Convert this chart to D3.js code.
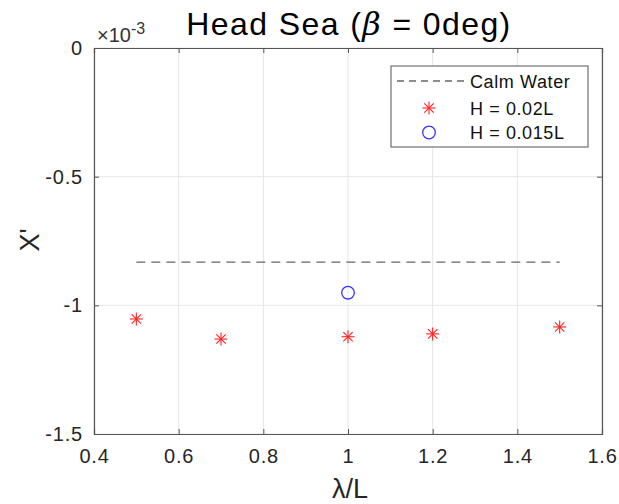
<!DOCTYPE html>
<html>
<head>
<meta charset="utf-8">
<script src="https://cdn.jsdelivr.net/npm/d3@7"></script>
<style>
  body { margin: 0; background: #fff; }
  text { font-family: "Liberation Sans", Arial, sans-serif; }
</style>
</head>
<body>
<div id="chart"></div>
<script>
var w = 619;
var h = 504;

// data (X' in units of 1e-3)
var waveLength = [0.5, 0.7, 1.0, 1.2, 1.5];
var h002 = [-1.053, -1.131, -1.122, -1.111, -1.084];
var h0015X = [1.0];
var h0015 = [-0.951];
var calmX = [0.5, 1.5];
var calmWater = -0.832;
var xTicks = [0.4, 0.6, 0.8, 1, 1.2, 1.4, 1.6];
var yTicks = [0, -0.5, -1, -1.5];
var legTexts = ["Calm Water", "H = 0.02L", "H = 0.015L"];

var pLeft = 94, pRight = 602, pTop = 48, pBottom = 434;

var xScale = d3.scaleLinear().domain([0.4, 1.6]).range([pLeft, pRight]);
var yScale = d3.scaleLinear().domain([-1.5, 0]).range([pBottom, pTop]);

var svg = d3.select("#chart").append("svg")
  .attr("width", w)
  .attr("height", h);

// grid
svg.selectAll(".gx").data(xTicks).enter().append("line")
  .attr("x1", d => xScale(d)).attr("x2", d => xScale(d))
  .attr("y1", pTop).attr("y2", pBottom)
  .attr("stroke", "#e6e6e6").attr("stroke-width", 1);
svg.selectAll(".gy").data(yTicks).enter().append("line")
  .attr("x1", pLeft).attr("x2", pRight)
  .attr("y1", d => yScale(d)).attr("y2", d => yScale(d))
  .attr("stroke", "#e6e6e6").attr("stroke-width", 1);

// axes (ticks inward)
var fmt = d => String(d).replace("\u2212", "-");
var xAxis = svg.append("g").attr("transform", "translate(0," + pBottom + ")")
  .call(d3.axisBottom(xScale).tickValues(xTicks).tickSize(-5).tickPadding(14).tickFormat(fmt));
var xAxisTop = svg.append("g").attr("transform", "translate(0," + pTop + ")")
  .call(d3.axisTop(xScale).tickValues(xTicks).tickSize(-5).tickFormat(""));
var yAxis = svg.append("g").attr("transform", "translate(" + pLeft + ",0)")
  .call(d3.axisLeft(yScale).tickValues(yTicks).tickSize(-5).tickPadding(11).tickFormat(fmt));
var yAxisR = svg.append("g").attr("transform", "translate(" + pRight + ",0)")
  .call(d3.axisRight(yScale).tickValues(yTicks).tickSize(-5).tickFormat(""));

[xAxis, xAxisTop, yAxis, yAxisR].forEach(function(g) {
  g.selectAll("path").attr("stroke", "#555").attr("stroke-width", 1.2);
  g.selectAll("line").attr("stroke", "#555");
  g.selectAll("text").attr("fill", "#262626").style("font-size", "20px")
    .style("letter-spacing", "0.8px")
    .style("font-family", "'Liberation Sans', Arial, sans-serif");
});
xAxis.selectAll(".tick text").attr("dy", "0.75em");

// calm water dashed line
svg.append("line")
  .attr("x1", xScale(calmX[0])).attr("x2", xScale(calmX[1]))
  .attr("y1", yScale(calmWater)).attr("y2", yScale(calmWater))
  .attr("stroke", "#666").attr("stroke-width", 1.4)
  .attr("stroke-dasharray", "9,6");

// star markers
function star(g, x, y, r) {
  var a = r * 0.72;
  var segs = [[-r, 0, r, 0], [0, -r, 0, r], [-a, -a, a, a], [-a, a, a, -a]];
  segs.forEach(function(s) {
    g.append("line")
      .attr("x1", x + s[0]).attr("y1", y + s[1])
      .attr("x2", x + s[2]).attr("y2", y + s[3])
      .attr("stroke", "#ff2020").attr("stroke-width", 1.1);
  });
}
var stars = svg.append("g");
waveLength.forEach(function(d, i) {
  star(stars, xScale(d), yScale(h002[i]), 6.5);
});

// circles
svg.selectAll(".circ").data(h0015X).enter().append("circle")
  .attr("cx", d => xScale(d))
  .attr("cy", (d, i) => yScale(h0015[i]))
  .attr("r", 6.3)
  .attr("fill", "none").attr("stroke", "#3535ff").attr("stroke-width", 1.3);

// legend
var lg = svg.append("g");
lg.append("rect").attr("x", 391).attr("y", 66).attr("width", 197).attr("height", 81)
  .attr("fill", "#fff").attr("stroke", "#555").attr("stroke-width", 1);
lg.append("line").attr("x1", 397).attr("x2", 467).attr("y1", 81).attr("y2", 81)
  .attr("stroke", "#666").attr("stroke-width", 1.4).attr("stroke-dasharray", "7,5");
star(lg, 429, 108, 6.5);
lg.append("circle").attr("cx", 429).attr("cy", 132.5).attr("r", 6.3)
  .attr("fill", "none").attr("stroke", "#3535ff").attr("stroke-width", 1.3);
lg.selectAll(".lt").data(legTexts).enter().append("text")
  .attr("x", 470).attr("y", (d, i) => [88, 115, 139][i])
  .style("font-size", "18px").style("letter-spacing", "0.6px").attr("fill", "#111")
  .text(d => d);

// exponent
var ex = svg.append("text").attr("x", 97).attr("y", 42).style("font-size", "20px").attr("fill", "#333");
ex.append("tspan").text("\u00d710");
ex.append("tspan").attr("dy", -8).style("font-size", "16px").text("-3");

// title
var t = svg.append("text").attr("x", 349).attr("y", 35).attr("text-anchor", "middle")
  .style("font-size", "32px").style("letter-spacing", "1.4px").attr("fill", "#000");
t.append("tspan").text("Head Sea (");
t.append("tspan").style("font-style", "italic").style("font-family", "'DejaVu Serif', serif").text("\u03b2");
t.append("tspan").text(" = 0deg)");

// axis labels
svg.append("text").attr("x", 350).attr("y", 498).attr("text-anchor", "middle")
  .style("font-size", "27px").attr("fill", "#262626").text("\u03bb/L");
svg.append("text").attr("transform", "translate(39,240) rotate(-90)").attr("text-anchor", "middle")
  .style("font-size", "27px").attr("fill", "#262626").text("X'");
</script>
</body>
</html>
